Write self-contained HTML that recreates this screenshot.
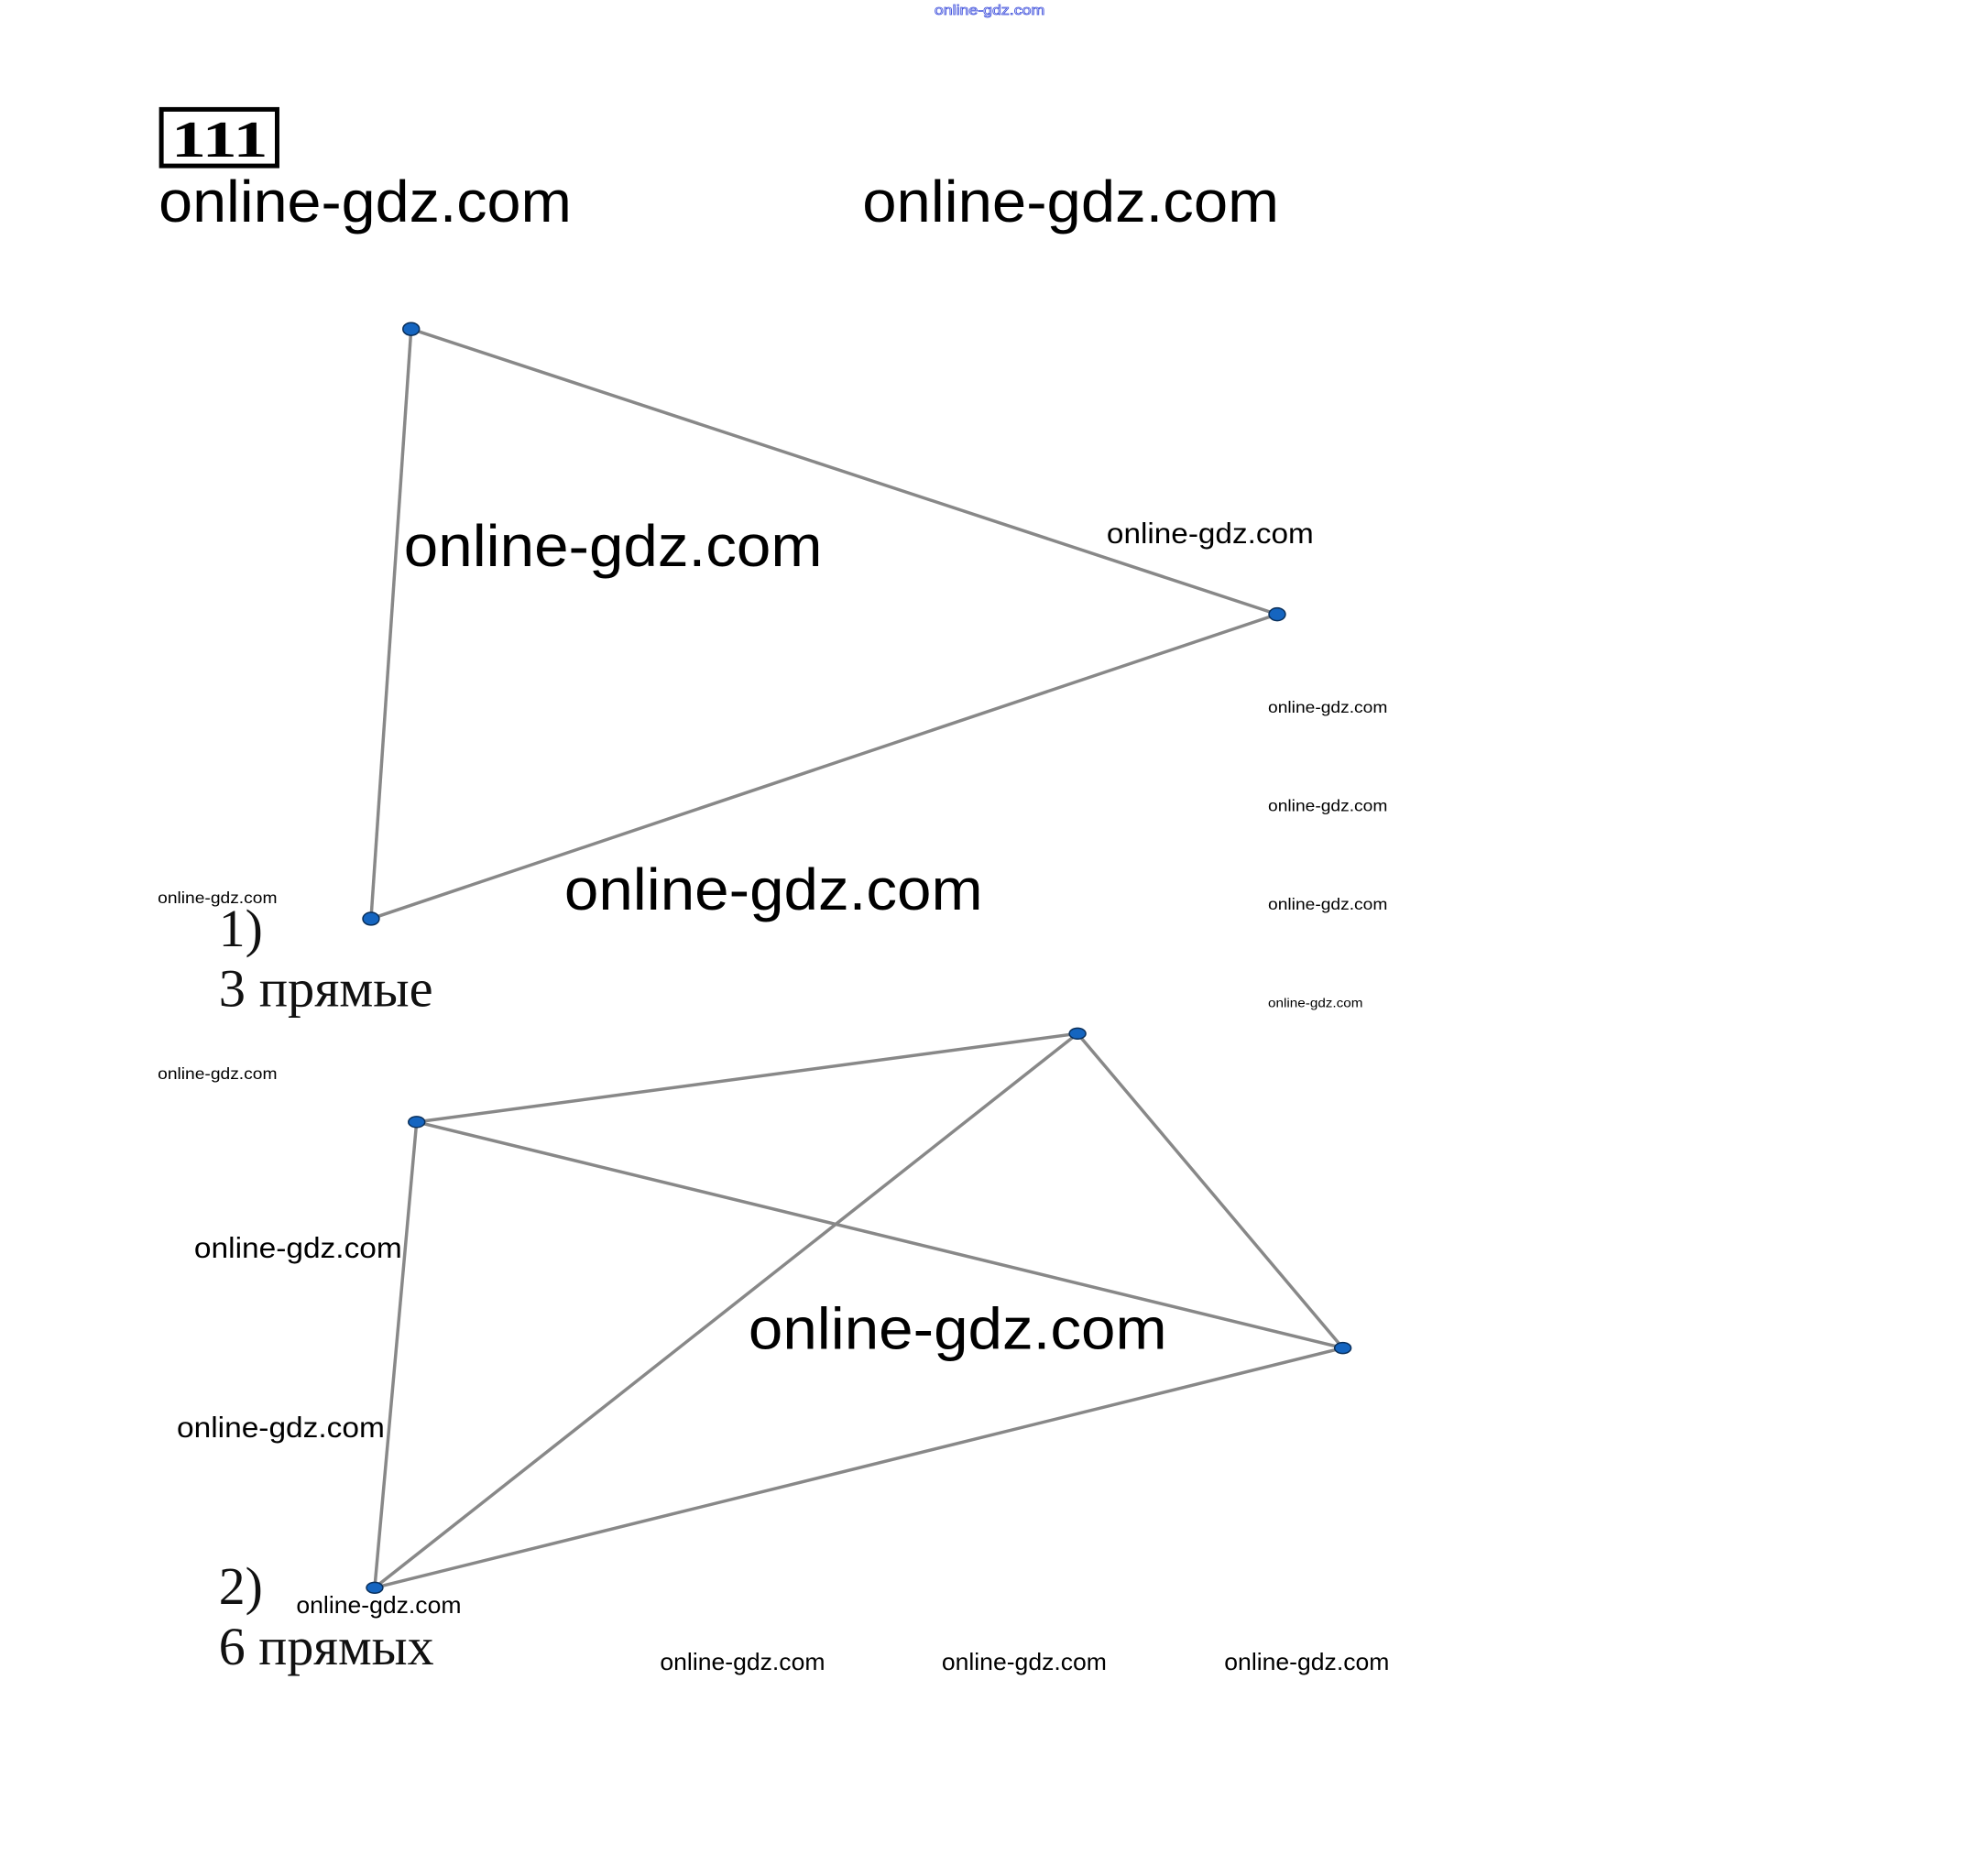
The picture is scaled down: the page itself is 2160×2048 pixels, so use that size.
<!DOCTYPE html>
<html><head><meta charset="utf-8"><style>
html,body{margin:0;padding:0;background:#fff}
svg{display:block}
.w{font-family:"Liberation Sans",sans-serif;fill:#000}
.s{font-family:"Liberation Serif",serif;fill:#111}
</style></head><body>
<svg width="2160" height="2048" viewBox="0 0 2160 2048" xmlns="http://www.w3.org/2000/svg">
<rect width="2160" height="2048" fill="#fff"/>
<g transform="scale(0.995)">
<text x="1025" y="16" font-family="Liberation Sans,sans-serif" font-size="15" fill="none" stroke="#4455dd" stroke-width="0.8" textLength="121" lengthAdjust="spacingAndGlyphs">online-gdz.com</text>
<rect x="177" y="120" width="127" height="62" fill="none" stroke="#000" stroke-width="5"/>
<text x="188" y="172" font-family="Liberation Serif,serif" font-weight="bold" font-size="56" textLength="106" lengthAdjust="spacingAndGlyphs">111</text>
<text class="w" x="174" y="243" font-size="64" textLength="453" lengthAdjust="spacingAndGlyphs">online-gdz.com</text>
<text class="w" x="946" y="243" font-size="64" textLength="457" lengthAdjust="spacingAndGlyphs">online-gdz.com</text>
<g stroke="#888" stroke-width="3.5" fill="none">
<line x1="451" y1="361" x2="1401" y2="674"/>
<line x1="1401" y1="674" x2="407" y2="1008"/>
<line x1="451" y1="361" x2="407" y2="1008"/>
<line x1="457" y1="1231" x2="1182" y2="1134"/>
<line x1="457" y1="1231" x2="1473" y2="1479"/>
<line x1="457" y1="1231" x2="411" y2="1742"/>
<line x1="1182" y1="1134" x2="411" y2="1742"/>
<line x1="1182" y1="1134" x2="1473" y2="1479"/>
<line x1="411" y1="1742" x2="1473" y2="1479"/>
</g>
<g fill="#1565c0" stroke="#0a2f5a" stroke-width="1.5">
<ellipse cx="451" cy="361" rx="9" ry="7"/>
<ellipse cx="1401" cy="674" rx="9" ry="7"/>
<ellipse cx="407" cy="1008" rx="9" ry="7"/>
<ellipse cx="1182" cy="1134" rx="9" ry="6"/>
<ellipse cx="457" cy="1231" rx="9" ry="6"/>
<ellipse cx="1473" cy="1479" rx="9" ry="6"/>
<ellipse cx="411" cy="1742" rx="9" ry="6"/>
</g>
<text class="w" x="443" y="621" font-size="64" textLength="459" lengthAdjust="spacingAndGlyphs">online-gdz.com</text>
<text class="w" x="1214" y="596" font-size="32" textLength="227" lengthAdjust="spacingAndGlyphs">online-gdz.com</text>
<text class="w" x="1391" y="782" font-size="18" textLength="131" lengthAdjust="spacingAndGlyphs">online-gdz.com</text>
<text class="w" x="1391" y="890" font-size="18" textLength="131" lengthAdjust="spacingAndGlyphs">online-gdz.com</text>
<text class="w" x="1391" y="998" font-size="18" textLength="131" lengthAdjust="spacingAndGlyphs">online-gdz.com</text>
<text class="w" x="1391" y="1105" font-size="14" textLength="104" lengthAdjust="spacingAndGlyphs">online-gdz.com</text>
<text class="w" x="173" y="991" font-size="18" textLength="131" lengthAdjust="spacingAndGlyphs">online-gdz.com</text>
<text class="w" x="173" y="1184" font-size="18" textLength="131" lengthAdjust="spacingAndGlyphs">online-gdz.com</text>
<text class="w" x="619" y="998" font-size="64" textLength="459" lengthAdjust="spacingAndGlyphs">online-gdz.com</text>
<text class="s" x="240" y="1038" font-size="58">1)</text>
<text class="s" x="240" y="1104" font-size="58" textLength="235" lengthAdjust="spacingAndGlyphs">3 прямые</text>
<text class="w" x="213" y="1380" font-size="32" textLength="228" lengthAdjust="spacingAndGlyphs">online-gdz.com</text>
<text class="w" x="194" y="1577" font-size="32" textLength="228" lengthAdjust="spacingAndGlyphs">online-gdz.com</text>
<text class="w" x="821" y="1480" font-size="64" textLength="459" lengthAdjust="spacingAndGlyphs">online-gdz.com</text>
<text class="s" x="240" y="1760" font-size="58">2)</text>
<text class="w" x="325" y="1770" font-size="26" textLength="181" lengthAdjust="spacingAndGlyphs">online-gdz.com</text>
<text class="s" x="240" y="1826" font-size="58" textLength="236" lengthAdjust="spacingAndGlyphs">6 прямых</text>
<text class="w" x="724" y="1832" font-size="26" textLength="181" lengthAdjust="spacingAndGlyphs">online-gdz.com</text>
<text class="w" x="1033" y="1832" font-size="26" textLength="181" lengthAdjust="spacingAndGlyphs">online-gdz.com</text>
<text class="w" x="1343" y="1832" font-size="26" textLength="181" lengthAdjust="spacingAndGlyphs">online-gdz.com</text>
</g>
</svg>
</body></html>
